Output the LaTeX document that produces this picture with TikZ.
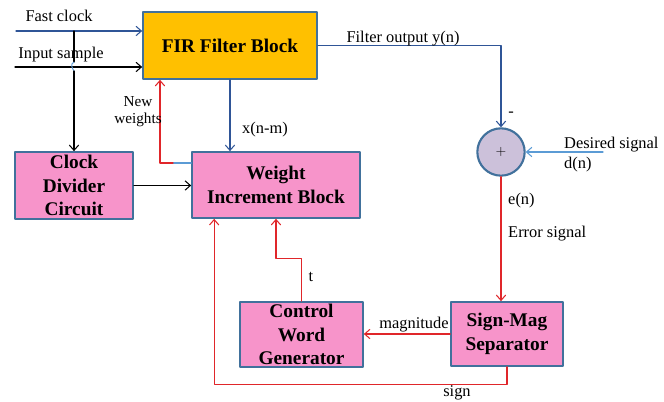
\documentclass[tikz,border=0pt]{standalone}
\usepackage{fontspec}
\setmainfont{Liberation Serif}
\usetikzlibrary{arrows.meta,calc}
\definecolor{firorange}{HTML}{FFC000}
\definecolor{blkpink}{HTML}{F794CA}
\definecolor{blkedge}{HTML}{41719C}
\definecolor{sumfill}{HTML}{CCC1DA}
\definecolor{sigred}{HTML}{E0262A}
\definecolor{sigblue}{HTML}{2F5597}
\definecolor{lightsig}{HTML}{5B9BD5}
\tikzset{
 blk/.style={draw=blkedge,line width=1.4pt,fill=blkpink,align=center,inner sep=0pt,
  font=\fontsize{16.5}{20}\selectfont\bfseries},
 lbl/.style={font=\fontsize{14}{14}\selectfont,inner sep=0pt},
 sig/.style={line width=.9pt,-{Straight Barb[length=1.6mm,width=2.8mm]}},
}
\begin{document}
\begin{tikzpicture}[x=0.03cm,y=-0.03cm,line cap=round,line join=round]
 \useasboundingbox (0,0) rectangle (664,402);
 % blocks
 \node[blk,fill=firorange,minimum width=5.22cm,minimum height=2.01cm] (fir) at (230,45.5) {FIR Filter Block};
 \node[blk,minimum width=3.54cm,minimum height=2.01cm] (clk) at (74,185.5) {Clock\\Divider\\Circuit};
 \node[blk,minimum width=5.04cm,minimum height=1.98cm] (wib) at (276,185) {Weight\\Increment Block};
 \node[blk,minimum width=3.69cm,minimum height=1.95cm] (cwg) at (301.5,334.5) {Control\\Word\\Generator};
 \node[blk,minimum width=3.36cm,minimum height=1.92cm] (sms) at (507,334) {Sign-Mag\\Separator};
 \node[circle,draw=blkedge,line width=1.8pt,fill=sumfill,minimum size=1.42cm,inner sep=0pt,
  font=\sffamily\fontsize{12}{12}\selectfont] (sum) at (501,152) {+};
 % free ends
 \coordinate (fc) at (16,31); \coordinate (ins) at (15,67);
 \coordinate (ds) at (603,152); \coordinate (nwk) at (160,163);
 % inputs
 \draw[sig,sigblue] (fc) -- (fc -| fir.west);
 \draw[sig] (ins) -- (ins -| fir.west);
 \draw[line width=.9pt] (fc -| clk.north) -- (74,62);
 \draw[lightsig,line width=.8pt] (74,62) .. controls (70,64) and (72,68) .. (74,71);
 \draw[sig] (74,71) -- (clk.north);
 \draw[sig] (clk.east) -- (clk.east -| wib.west);
 % feedback of weights
 \draw[lightsig,line width=1pt] (wib.west |- nwk) -- ($(nwk)+(13,0)$);
 \draw[sig,sigred] ($(nwk)+(13,0)$) -- (nwk) -- (nwk |- fir.south);
 \draw[sig,sigblue] (fir.south) -- (fir.south |- wib.north);
 \draw[sig,sigblue] (fir.east) -| (sum.north);
 \draw[sig,lightsig] (ds) -- (sum.east);
 \draw[sig,sigred] (sum.south) -- (sum.south |- sms.north);
 \draw[sig,sigred] (sms.west) -- (sms.west -| cwg.east);
 \draw[sig,sigred] (cwg.north) -- ++(0,-43) -| (wib.south);
 \draw[sig,sigred] (sms.south) -- ++(0,18) -| ($(wib.south west)+(23,0)$);
 % labels
 \node[lbl] at (59,16) {Fast clock};
 \node[lbl] at (61,55) {Input sample};
 \node[lbl,align=center,font=\fontsize{13}{14.5}\selectfont] at (138,112) {New\\weights};
 \node[lbl] at (265,130) {x(n-m)};
 \node[lbl] at (403,39) {Filter output y(n)};
 \node[lbl] at (511,114) {-};
 \node[lbl,anchor=west] at (564,145) {Desired signal};
 \node[lbl,anchor=west] at (564,165) {d(n)};
 \node[lbl,anchor=west] at (508,201) {e(n)};
 \node[lbl,anchor=west] at (508,234) {Error signal};
 \node[lbl] at (414,325) {magnitude};
 \node[lbl] at (311,277) {t};
 \node[lbl] at (457,393) {sign};
\end{tikzpicture}
\end{document}
